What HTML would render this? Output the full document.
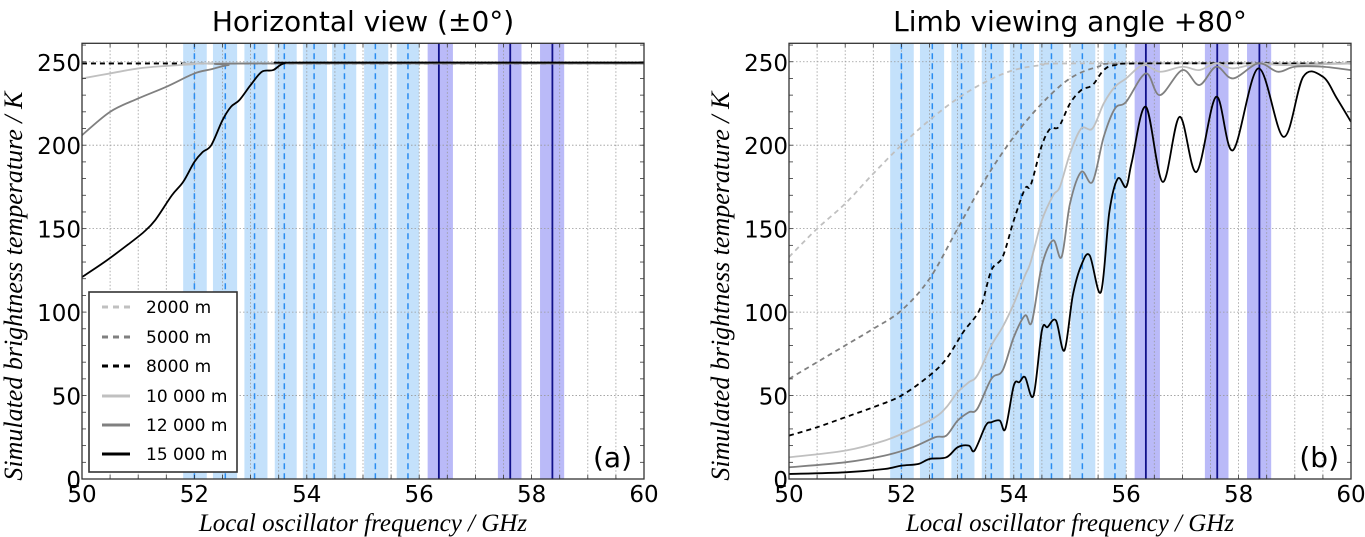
<!DOCTYPE html>
<html><head><meta charset="utf-8">
<style>
html,body{margin:0;padding:0;background:#fff;}
svg{display:block;}
</style></head>
<body>
<svg id="chart" width="1365" height="537" xmlns="http://www.w3.org/2000/svg"></svg>
<script>
// ---- data ----
const xTicks = [50,52,54,56,58,60];
const yTicks = [0,50,100,150,200,250];
const lightBands = [[51.8,52.22],[52.33,52.76],[52.89,53.3],[53.43,53.82],[53.93,54.36],[54.45,54.88],[55.02,55.45],[55.6,56.0]];
const lightCenters = [52.0,52.55,53.07,53.6,54.13,54.67,55.22,55.8];
const darkBands = [[56.15,56.6],[57.4,57.82],[58.15,58.58]];
const darkCenters = [56.35,57.62,58.37];
const seriesNames = ["2000 m","5000 m","8000 m","10 000 m","12 000 m","15 000 m"];
const seriesColors = ["#c0c0c0","#808080","#000000","#c0c0c0","#808080","#000000"];
const seriesDashed = [true,true,true,false,false,false];

const hA2000 = [[50,249],[60,249]];
const hA5000 = [[50,249],[60,249]];
const hA8000 = [[50,249],[60,249]];
const hA10000 = [[50,240],[50.5,243],[51,246],[51.5,247.5],[52,248.5],[52.5,249],[60,249]];
const hA12000 = [[50,206],[50.5,220],[51,228],[51.5,235],[52,243],[52.3,245.5],[52.6,248],[53,249],[60,249]];
const hA15000 = [[50,121],[50.4,130],[50.8,140],[51.1,148],[51.3,155],[51.6,170],[51.8,178],[52,190],[52.15,196],[52.3,200],[52.5,215],[52.65,223],[52.8,227],[53,236],[53.2,244],[53.4,245],[53.6,249],[54,249.5],[60,249.5]];
const limb2000 = [[50,133],[50.5,150],[51,165],[51.5,183],[52,200],[52.5,215],[53,228],[53.5,238],[54,245],[54.5,248],[55,249],[60,249]];
const limb5000 = [[50,60],[50.5,70],[51,80],[51.5,90],[52,101],[52.5,120],[53,150],[53.5,180],[54,205],[54.5,225],[55,240],[55.5,247],[56,249],[60,249]];
const limb8000 = [[50,26],[50.5,31],[51,37],[51.5,43],[52,50],[52.5,62],[52.8,72],[53.1,88],[53.4,102],[53.6,125],[53.8,133],[54.0,155],[54.2,174],[54.3,176],[54.5,200],[54.65,210],[54.8,211],[55.0,225],[55.2,233],[55.4,236],[55.6,245],[55.8,248],[56.3,249],[60,249]];
const limb10000 = [[50,13],[51,17],[51.7,23],[52.2,30],[52.6,37],[52.8,43],[53,52],[53.2,58],[53.35,62],[53.6,80],[53.8,91],[54,105],[54.2,122],[54.3,130],[54.5,155],[54.7,170],[54.82,175],[55,195],[55.2,210],[55.4,210],[55.6,225],[55.8,235],[56,240],[56.3,248],[56.6,244],[57,247],[57.3,245],[57.6,249],[57.9,246],[58.35,249],[58.8,248],[60,249]];
const limb12000 = [[50,7],[51,10],[51.7,14],[52.2,19],[52.6,25],[52.8,26],[53,35],[53.2,40],[53.35,42],[53.6,60],[53.8,65],[54,85],[54.2,98],[54.32,94],[54.5,128],[54.7,143],[54.85,133],[55,165],[55.2,184],[55.4,178],[55.6,205],[55.8,222],[56,226],[56.35,243],[56.6,230],[57,245],[57.3,236],[57.6,247],[57.9,240],[58.35,249],[58.7,244],[59,247],[59.5,247],[60,245]];
const limb15000 = [[50,3],[51,4],[51.7,6],[52,8],[52.3,9],[52.5,12],[52.8,13],[53,19],[53.2,20],[53.3,17],[53.5,32],[53.6,34],[53.75,35],[53.85,30],[54.0,56],[54.1,58],[54.2,61],[54.35,50],[54.5,89],[54.6,91],[54.75,95],[54.9,77],[55.05,110],[55.2,128],[55.35,134],[55.55,112],[55.7,160],[55.85,180],[56,175],[56.1,190],[56.35,223],[56.65,178],[56.95,217],[57.25,184],[57.6,229],[57.9,197],[58.35,246],[58.8,205],[59.15,241],[59.5,241],[59.75,228],[60,214]];

const panelA = [hA2000,hA5000,hA8000,hA10000,hA12000,hA15000];
const panelB = [limb2000,limb5000,limb8000,limb10000,limb12000,limb15000];

// ---- drawing ----
const NS = "http://www.w3.org/2000/svg";
const svg = document.getElementById('chart');
function mk(tag, attrs, parent){
  const e = document.createElementNS(NS, tag);
  for (const k in attrs) e.setAttribute(k, attrs[k]);
  (parent||svg).appendChild(e);
  return e;
}
function smoothPath(pts, sx, sy){
  const P = pts.map(p=>[sx(p[0]), sy(p[1])]);
  let d = "M"+P[0][0].toFixed(2)+","+P[0][1].toFixed(2);
  for (let i=0;i<P.length-1;i++){
    const p0=P[Math.max(0,i-1)], p1=P[i], p2=P[i+1], p3=P[Math.min(P.length-1,i+2)];
    const c1=[p1[0]+(p2[0]-p0[0])/6, p1[1]+(p2[1]-p0[1])/6];
    const c2=[p2[0]-(p3[0]-p1[0])/6, p2[1]-(p3[1]-p1[1])/6];
    d += " C"+c1[0].toFixed(2)+","+c1[1].toFixed(2)+" "+c2[0].toFixed(2)+","+c2[1].toFixed(2)+" "+p2[0].toFixed(2)+","+p2[1].toFixed(2);
  }
  return d;
}

function panel(id, L, R, title, tag, series, legend){
  const T = 43.3, B = 479;
  const sx = v => L + (v-50)/10*(R-L);
  const sy = v => B - v*1.669;
  const g = mk('g', {});
  
  
  const clipId = 'clip-'+id;
  const cp = mk('clipPath', {id:clipId}, g);
  mk('rect', {x:L, y:T, width:R-L, height:B-T}, cp);
  lightBands.forEach(b=>{
    const r = mk('rect', {x:sx(b[0]), y:T, width:sx(b[1])-sx(b[0]), height:B-T, fill:'#c4e1fb'}, g);
    
    
  });
  darkBands.forEach(b=>{
    const r = mk('rect', {x:sx(b[0]), y:T, width:sx(b[1])-sx(b[0]), height:B-T, fill:'#babaf8'}, g);
    
    
  });
  for (let v=50.5; v<60; v+=0.5){
    mk('line', {x1:sx(v), x2:sx(v), y1:T, y2:B, stroke:'#999', 'stroke-width':0.8, 'stroke-dasharray':'1.5,2'}, g);
  }
  yTicks.forEach(v=>{
    if (v>0) mk('line', {x1:L, x2:R, y1:sy(v), y2:sy(v), stroke:'#999', 'stroke-width':0.8, 'stroke-dasharray':'1.5,2'}, g);
  });
  lightCenters.forEach(c=>{
    const l = mk('line', {x1:sx(c), x2:sx(c), y1:T, y2:B, stroke:'#2a8cf0', 'stroke-width':1.5, 'stroke-dasharray':'6,4'}, g);
    
    
  });
  darkCenters.forEach(c=>{
    const l = mk('line', {x1:sx(c), x2:sx(c), y1:T, y2:B, stroke:'#10108a', 'stroke-width':1.8}, g);
    
    
  });
  series.forEach((pts,i)=>{
    const p = mk('path', {d:smoothPath(pts,sx,sy), fill:'none', stroke:seriesColors[i], 'stroke-width':1.8, 'clip-path':'url(#'+clipId+')'}, g);
    if (seriesDashed[i]) p.setAttribute('stroke-dasharray','5,4');
    
    
  });
  mk('rect', {x:L, y:T, width:R-L, height:B-T, fill:'none', stroke:'#333', 'stroke-width':1.3}, g);
  for (let v=10; v<=260; v+=10){
    mk('line', {x1:L, x2:L+4, y1:sy(v), y2:sy(v), stroke:'#333', 'stroke-width':0.8}, g);
    mk('line', {x1:R, x2:R-4, y1:sy(v), y2:sy(v), stroke:'#333', 'stroke-width':0.8}, g);
  }
  for (let v=50.5; v<60; v+=0.5){
    mk('line', {x1:sx(v), x2:sx(v), y1:B, y2:B-4, stroke:'#333', 'stroke-width':0.8}, g);
    mk('line', {x1:sx(v), x2:sx(v), y1:T, y2:T+4, stroke:'#333', 'stroke-width':0.8}, g);
  }
  xTicks.forEach(v=>{
    const t = mk('text', {x:sx(v), y:B+23, 'text-anchor':'middle', 'font-family':'DejaVu Sans, Liberation Sans, sans-serif', 'font-size':23, fill:'#000'}, g);
    t.textContent = v;
    
    
  });
  yTicks.forEach(v=>{
    const t = mk('text', {x:L-1, y:sy(v)+9, 'text-anchor':'end', 'font-family':'DejaVu Sans, Liberation Sans, sans-serif', 'font-size':23, fill:'#000'}, g);
    t.textContent = v;
    
    
  });
  const tt = mk('text', {x:(L+R)/2, y:31, 'text-anchor':'middle', 'font-family':'DejaVu Sans, Liberation Sans, sans-serif', 'font-size':28, fill:'#000'}, g);
  tt.textContent = title;
  
  
  const xl = mk('text', {x:(L+R)/2, y:531, 'text-anchor':'middle', 'font-family':'Liberation Serif, serif', 'font-style':'italic', 'font-size':25, fill:'#000'}, g);
  xl.textContent = 'Local oscillator frequency / GHz';
  
  
  const yl = mk('text', {x:0, y:0, 'text-anchor':'middle', 'font-family':'Liberation Serif, serif', 'font-style':'italic', 'font-size':26, fill:'#000', transform:'translate('+(L-60)+','+((T+B)/2+25)+') rotate(-90)'}, g);
  yl.textContent = 'Simulated brightness temperature / K';
  
  
  const pl = mk('text', {x:R-12, y:B-12, 'text-anchor':'end', 'font-family':'DejaVu Sans, Liberation Sans, sans-serif', 'font-size':28, fill:'#000'}, g);
  pl.textContent = tag;
  
  
  if (legend){
    const lg = mk('g', {}, g);
    
    
    mk('rect', {x:89, y:292, width:148, height:180, fill:'#fff', stroke:'#333', 'stroke-width':1.6}, lg);
    const ys = [307,337,366,396,425,454];
    seriesNames.forEach((n,i)=>{
      const ln = mk('line', {x1:102, x2:130, y1:ys[i], y2:ys[i], stroke:seriesColors[i], 'stroke-width':3}, lg);
      if (seriesDashed[i]) ln.setAttribute('stroke-dasharray','6,5');
      const t = mk('text', {x:146, y:ys[i]+6, 'font-family':'DejaVu Sans, Liberation Sans, sans-serif', 'font-size':17, fill:'#000'}, lg);
      t.textContent = n;
      
      
    });
  }
}
panel('panel-a', 82, 644, 'Horizontal view (±0°)', '(a)', panelA, true);
panel('panel-b', 789, 1351, 'Limb viewing angle +80°', '(b)', panelB, false);
</script>
</body></html>
